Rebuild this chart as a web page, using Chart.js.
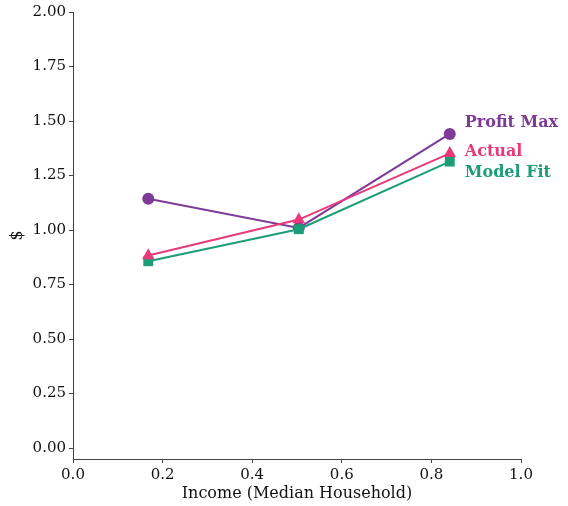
<!DOCTYPE html>
<html>
<head>
<meta charset="utf-8">
<script src="https://cdn.jsdelivr.net/npm/chart.js@4/dist/chart.umd.min.js"></script>
<style>
  html, body { margin: 0; padding: 0; background: #fff; }
  #wrap { width: 568px; height: 506px; position: relative; }
</style>
</head>
<body>
<div id="wrap"><canvas id="c" width="568" height="506"></canvas></div>
<script>
// Income terciles (normalised median household income)
const incomeLevels = [0.168, 0.504, 0.841];

// Price series ($)
const profitMax = [1.144, 1.01, 1.441];
const actual    = [0.883, 1.048, 1.352];
const modelFit  = [0.857, 1.004, 1.314];

const seriesNames = ['Profit Max', 'Actual', 'Model Fit'];

const xTicks = [0, 0.2, 0.4, 0.6, 0.8, 1.0];
const yTicks = [0, 0.25, 0.5, 0.75, 1.0, 1.25, 1.5, 1.75, 2.0];

const colors = ['#7d3a96', '#e8397a', '#1b9e77'];
const markers = ['circle', 'triangle', 'rect'];
const radii = [6, 7.2, 7];
// stacking: Profit Max at the back, Actual in front
const drawOrder = [3, 1, 2];
// vertical nudge (px) for the end-of-line labels so they do not collide
const labelNudge = [-11, -1, 11];

const FONT = "'DejaVu Serif', serif";
const AXIS = '#444';

function toPoints(ys) {
  return incomeLevels.map((x, i) => ({ x: x, y: ys[i] }));
}

const datasets = [profitMax, actual, modelFit].map((ys, i) => ({
  label: seriesNames[i],
  data: toPoints(ys),
  borderColor: colors[i],
  backgroundColor: colors[i],
  borderWidth: 2,
  pointStyle: markers[i],
  pointRadius: radii[i],
  pointHoverRadius: radii[i],
  pointBorderWidth: 0,
  tension: 0,
  order: drawOrder[i]
}));

// Writes each series name just right of its last point
const endLabels = {
  id: 'endLabels',
  afterDatasetsDraw(chart) {
    const { ctx, scales } = chart;
    ctx.save();
    ctx.font = "bold 16px " + FONT;
    ctx.textBaseline = 'middle';
    ctx.textAlign = 'left';
    chart.data.datasets.forEach((ds, i) => {
      const last = ds.data[ds.data.length - 1];
      const px = scales.x.getPixelForValue(last.x) + 15;
      const py = scales.y.getPixelForValue(last.y) + labelNudge[i];
      ctx.fillStyle = colors[i];
      ctx.fillText(ds.label, px, py);
    });
    ctx.restore();
  }
};

new Chart(document.getElementById('c'), {
  type: 'line',
  data: { datasets },
  plugins: [endLabels],
  options: {
    responsive: false,
    animation: false,
    events: [],
    layout: { padding: { top: 11, right: 47, bottom: 0, left: 0 } },
    plugins: {
      legend: { display: false },
      tooltip: { enabled: false }
    },
    scales: {
      x: {
        type: 'linear',
        min: 0,
        max: 1,
        afterBuildTicks(scale) { scale.ticks = xTicks.map(v => ({ value: v })); },
        afterFit(scale) { scale.height = 47; },
        ticks: {
          color: '#111',
          font: { family: FONT, size: 15 },
          padding: 3,
          maxRotation: 0,
          callback: v => Number(v).toFixed(1)
        },
        grid: { display: true, drawOnChartArea: false, drawTicks: true, tickLength: 4, color: AXIS, lineWidth: 1 },
        border: { display: true, color: AXIS, width: 1 },
        title: {
          display: true,
          text: 'Income (Median Household)',
          color: '#111',
          font: { family: FONT, size: 16 },
          padding: { top: 3, bottom: 3 }
        }
      },
      y: {
        type: 'linear',
        min: -0.05,
        max: 2.0,
        afterBuildTicks(scale) { scale.ticks = yTicks.map(v => ({ value: v })); },
        afterFit(scale) { scale.width = 73; },
        ticks: {
          color: '#111',
          font: { family: FONT, size: 15 },
          padding: 3,
          callback: v => Number(v).toFixed(2)
        },
        grid: { display: true, drawOnChartArea: false, drawTicks: true, tickLength: 4, color: AXIS, lineWidth: 1 },
        border: { display: true, color: AXIS, width: 1 },
        title: {
          display: true,
          text: '$',
          color: '#111',
          font: { family: FONT, size: 16 },
          padding: { top: 8, bottom: 0 }
        }
      }
    }
  }
});
</script>
</body>
</html>
